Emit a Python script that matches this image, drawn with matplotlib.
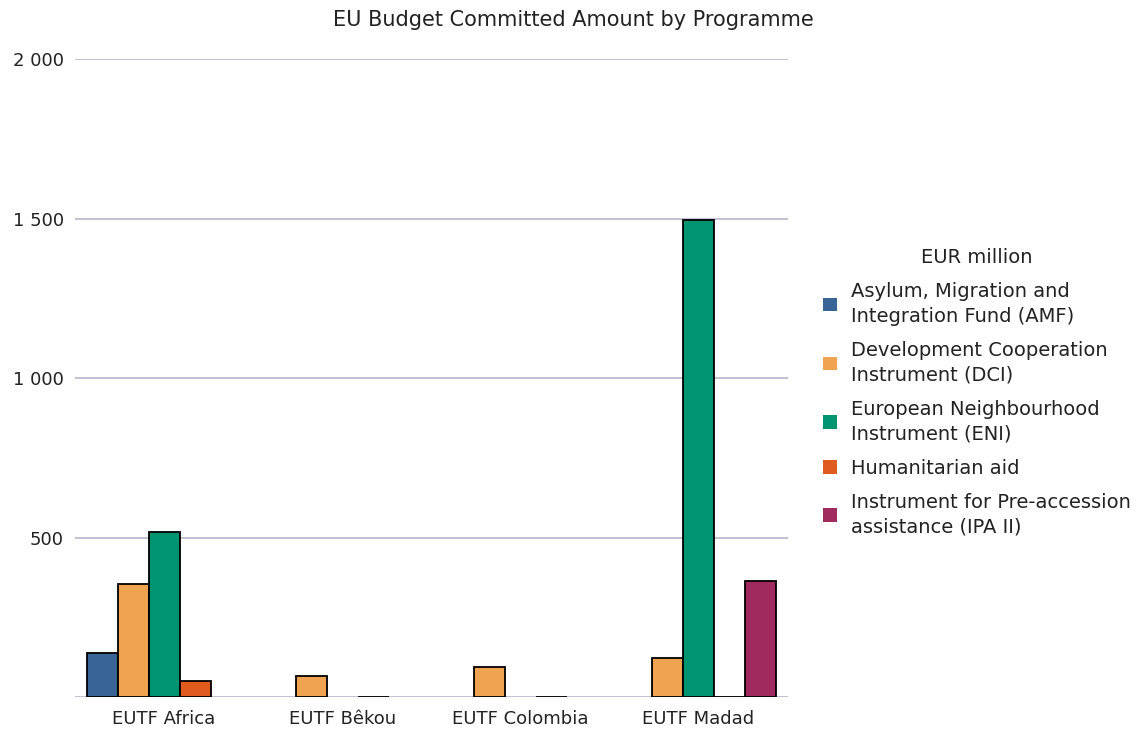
import numpy as np
import matplotlib.pyplot as plt
from matplotlib.patches import Patch
from matplotlib.ticker import FuncFormatter

# data (EUR million), NaN = no commitment shown
categories = ["EUTF Africa", "EUTF Bêkou", "EUTF Colombia", "EUTF Madad"]
programmes = [
    "Asylum, Migration and\nIntegration Fund (AMF)",
    "Development Cooperation\nInstrument (DCI)",
    "European Neighbourhood\nInstrument (ENI)",
    "Humanitarian aid",
    "Instrument for Pre-accession\nassistance (IPA II)",
]
amf = [137, np.nan, np.nan, np.nan]
dci = [353, 67, 95, 122]
eni = [516, np.nan, np.nan, 1495]
hum = [50, 1, 1, 1]
ipa = [np.nan, np.nan, np.nan, 365]
series = [amf, dci, eni, hum, ipa]
colors = ["#396596", "#f0a452", "#009470", "#e05c1e", "#a02a5e"]

plt.rcParams["font.family"] = "DejaVu Sans"
txt = "#222222"

fig = plt.figure(figsize=(11.43, 7.31), dpi=100)
ax = fig.add_axes([0.0656, 0.0465, 0.6234, 0.8725])

x = np.arange(len(categories))
n = len(series)
w = 0.174
for i, (vals, c) in enumerate(zip(series, colors)):
    vals = np.array(vals, dtype=float)
    mask = ~np.isnan(vals)
    ax.bar(x[mask] + (i - (n - 1) / 2) * w, vals[mask], width=w, color=c,
           edgecolor="black", linewidth=1.3, zorder=3)

ax.set_xlim(-0.5, len(categories) - 0.5)
ax.set_ylim(0, 2000)
ax.set_yticks([0, 500, 1000, 1500, 2000])
ax.yaxis.set_major_formatter(FuncFormatter(
    lambda v, p: "" if v == 0 else f"{int(v):,}".replace(",", " ")))
ax.set_xticks(x)
ax.set_xticklabels(categories)
ax.grid(axis="y", color="#b6b6cc", linewidth=1.2, zorder=0)
for s in ax.spines.values():
    s.set_visible(False)
ax.tick_params(axis="both", length=0, labelsize=13, colors=txt)
ax.tick_params(axis="x", pad=9)
ax.tick_params(axis="y", pad=8)

fig.suptitle("EU Budget Committed Amount by Programme", x=0.502, y=0.986,
             fontsize=15, color=txt)

handles = [Patch(facecolor=c, edgecolor="none") for c in colors]
leg = fig.legend(handles, programmes, title="EUR million", loc="upper left",
                 bbox_to_anchor=(0.72, 0.661), frameon=False, fontsize=14,
                 title_fontsize=14, handlelength=0.7, handleheight=0.7,
                 handletextpad=0.75, labelspacing=0.78, borderpad=0,
                 borderaxespad=0)
leg.get_title().set_color(txt)
for t in leg.get_texts():
    t.set_color(txt)
    t.set_linespacing(1.38)

fig.savefig("out.png", dpi=100)
